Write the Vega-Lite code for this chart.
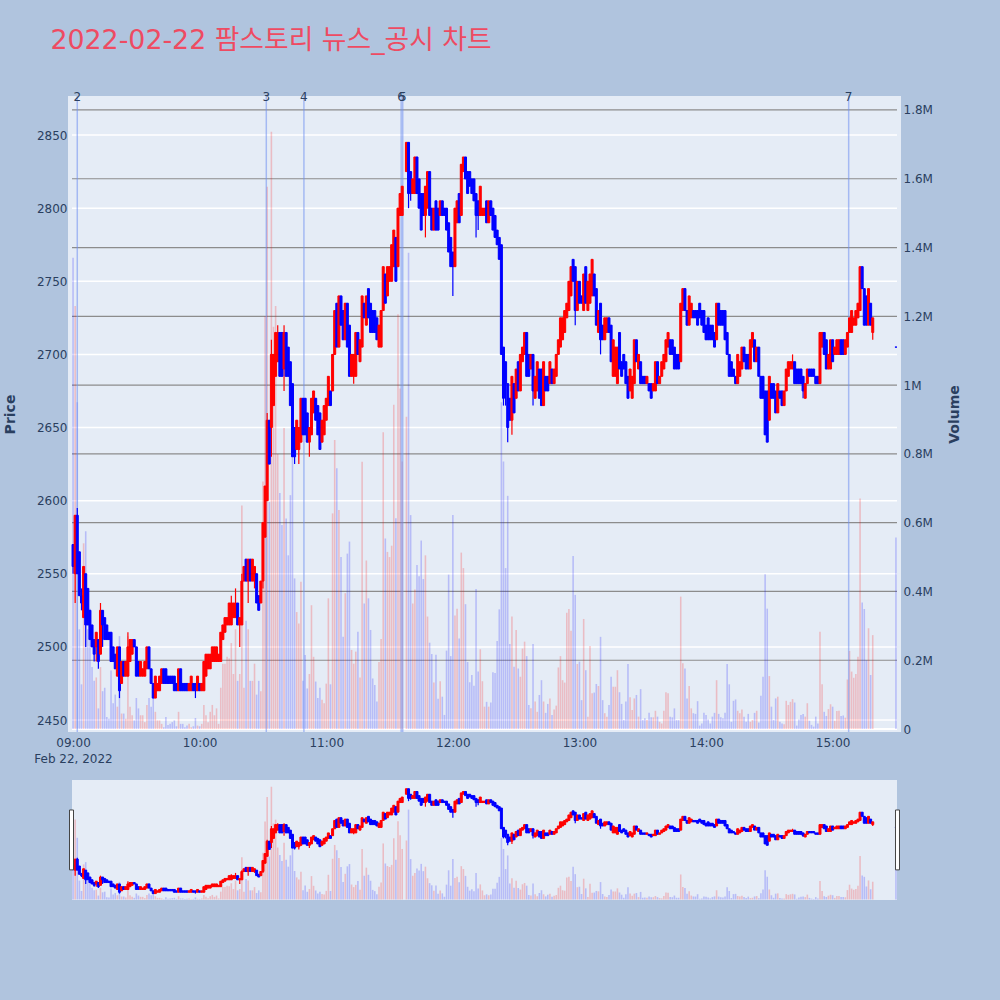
{"$schema":"https://vega.github.io/schema/vega-lite/v6.json","background":"#b0c4de","padding":{"left":3,"top":28,"right":38,"bottom":100},"title":{"text":"2022-02-22 팜스토리 뉴스_공시 차트","anchor":"start","dx":47,"offset":36,"fontSize":26.8,"fontWeight":"normal","color":"#ee4b62"},"config":{"font":"DejaVu Sans, Noto Sans CJK KR","axis":{"labelColor":"#2a3f5f","titleColor":"#2a3f5f","labelFontSize":12,"titleFontSize":14,"domain":false,"ticks":false,"grid":false}},"datasets":{"mainBand":[{"t":"2022-02-22T08:57:36","t2":"2022-02-22T15:32:24","p":2441.8,"p2":2876.7}],"priceGrid":[{"t":"2022-02-22T08:59:30","t2":"2022-02-22T15:30:30","p":2450},{"t":"2022-02-22T08:59:30","t2":"2022-02-22T15:30:30","p":2500},{"t":"2022-02-22T08:59:30","t2":"2022-02-22T15:30:30","p":2550},{"t":"2022-02-22T08:59:30","t2":"2022-02-22T15:30:30","p":2600},{"t":"2022-02-22T08:59:30","t2":"2022-02-22T15:30:30","p":2650},{"t":"2022-02-22T08:59:30","t2":"2022-02-22T15:30:30","p":2700},{"t":"2022-02-22T08:59:30","t2":"2022-02-22T15:30:30","p":2750},{"t":"2022-02-22T08:59:30","t2":"2022-02-22T15:30:30","p":2800},{"t":"2022-02-22T08:59:30","t2":"2022-02-22T15:30:30","p":2850}],"volGrid":[{"t":"2022-02-22T08:59:30","t2":"2022-02-22T15:30:30","v":200000},{"t":"2022-02-22T08:59:30","t2":"2022-02-22T15:30:30","v":400000},{"t":"2022-02-22T08:59:30","t2":"2022-02-22T15:30:30","v":600000},{"t":"2022-02-22T08:59:30","t2":"2022-02-22T15:30:30","v":800000},{"t":"2022-02-22T08:59:30","t2":"2022-02-22T15:30:30","v":1000000},{"t":"2022-02-22T08:59:30","t2":"2022-02-22T15:30:30","v":1200000},{"t":"2022-02-22T08:59:30","t2":"2022-02-22T15:30:30","v":1400000},{"t":"2022-02-22T08:59:30","t2":"2022-02-22T15:30:30","v":1600000},{"t":"2022-02-22T08:59:30","t2":"2022-02-22T15:30:30","v":1800000}],"volZero":[{"t":"2022-02-22T08:59:30","t2":"2022-02-22T15:30:30","v":0}],"sliderBand":[{"t":"2022-02-22T08:59:30","t2":"2022-02-22T15:30:30","p":2441.8,"p2":2876.7}],"handles":[{"t":"2022-02-22T08:58:19","t2":"2022-02-22T09:00:13","p":2768,"p2":2551},{"t":"2022-02-22T15:29:47","t2":"2022-02-22T15:31:41","p":2768,"p2":2551}],"events":[{"t":"2022-02-22T09:02:00","label":"2","p":2876},{"t":"2022-02-22T10:31:35","label":"3","p":2876},{"t":"2022-02-22T10:49:25","label":"4","p":2876},{"t":"2022-02-22T11:35:30","label":"6","p":2876},{"t":"2022-02-22T11:36:15","label":"5","p":2876},{"t":"2022-02-22T15:07:36","label":"7","p":2876}],"bars":[
{"t":"2022-02-22T09:00","o":2570,"h":2570,"l":2550,"c":2555,"v":1370000},
{"t":"2022-02-22T09:01","o":2550,"h":2590,"l":2530,"c":2590,"v":1230000},
{"t":"2022-02-22T09:02","o":2590,"h":2595,"l":2550,"c":2550,"v":950000},
{"t":"2022-02-22T09:03","o":2565,"h":2565,"l":2535,"c":2535,"v":290000},
{"t":"2022-02-22T09:04","o":2535,"h":2540,"l":2525,"c":2530,"v":130000},
{"t":"2022-02-22T09:05","o":2520,"h":2555,"l":2520,"c":2555,"v":540000},
{"t":"2022-02-22T09:06","o":2550,"h":2550,"l":2500,"c":2515,"v":575000},
{"t":"2022-02-22T09:07","o":2540,"h":2540,"l":2515,"c":2515,"v":290000},
{"t":"2022-02-22T09:08","o":2525,"h":2525,"l":2505,"c":2505,"v":350000},
{"t":"2022-02-22T09:09","o":2515,"h":2515,"l":2500,"c":2500,"v":180000},
{"t":"2022-02-22T09:10","o":2505,"h":2505,"l":2490,"c":2495,"v":140000},
{"t":"2022-02-22T09:11","o":2500,"h":2510,"l":2490,"c":2510,"v":150000},
{"t":"2022-02-22T09:12","o":2505,"h":2505,"l":2485,"c":2490,"v":60000},
{"t":"2022-02-22T09:13","o":2495,"h":2530,"l":2495,"c":2525,"v":180000},
{"t":"2022-02-22T09:14","o":2525,"h":2525,"l":2500,"c":2515,"v":110000},
{"t":"2022-02-22T09:15","o":2520,"h":2520,"l":2505,"c":2505,"v":120000},
{"t":"2022-02-22T09:16","o":2515,"h":2515,"l":2505,"c":2505,"v":35000},
{"t":"2022-02-22T09:17","o":2510,"h":2510,"l":2505,"c":2505,"v":30000},
{"t":"2022-02-22T09:18","o":2510,"h":2510,"l":2490,"c":2490,"v":170000},
{"t":"2022-02-22T09:19","o":2500,"h":2500,"l":2490,"c":2490,"v":75000},
{"t":"2022-02-22T09:20","o":2495,"h":2495,"l":2485,"c":2485,"v":100000},
{"t":"2022-02-22T09:21","o":2480,"h":2500,"l":2480,"c":2500,"v":65000},
{"t":"2022-02-22T09:22","o":2500,"h":2500,"l":2465,"c":2470,"v":270000},
{"t":"2022-02-22T09:23","o":2475,"h":2490,"l":2475,"c":2490,"v":45000},
{"t":"2022-02-22T09:24","o":2490,"h":2490,"l":2480,"c":2480,"v":45000},
{"t":"2022-02-22T09:25","o":2480,"h":2490,"l":2480,"c":2490,"v":30000},
{"t":"2022-02-22T09:26","o":2480,"h":2510,"l":2480,"c":2500,"v":270000},
{"t":"2022-02-22T09:27","o":2490,"h":2505,"l":2490,"c":2505,"v":65000},
{"t":"2022-02-22T09:28","o":2495,"h":2505,"l":2495,"c":2505,"v":40000},
{"t":"2022-02-22T09:29","o":2505,"h":2505,"l":2500,"c":2500,"v":25000},
{"t":"2022-02-22T09:30","o":2500,"h":2500,"l":2480,"c":2480,"v":90000},
{"t":"2022-02-22T09:31","o":2490,"h":2490,"l":2480,"c":2480,"v":60000},
{"t":"2022-02-22T09:32","o":2480,"h":2490,"l":2480,"c":2490,"v":40000},
{"t":"2022-02-22T09:33","o":2480,"h":2485,"l":2480,"c":2485,"v":40000},
{"t":"2022-02-22T09:34","o":2480,"h":2490,"l":2480,"c":2490,"v":20000},
{"t":"2022-02-22T09:35","o":2485,"h":2500,"l":2485,"c":2500,"v":70000},
{"t":"2022-02-22T09:36","o":2500,"h":2500,"l":2485,"c":2485,"v":90000},
{"t":"2022-02-22T09:37","o":2485,"h":2485,"l":2475,"c":2475,"v":65000},
{"t":"2022-02-22T09:38","o":2475,"h":2475,"l":2465,"c":2465,"v":95000},
{"t":"2022-02-22T09:39","o":2465,"h":2480,"l":2465,"c":2480,"v":50000},
{"t":"2022-02-22T09:40","o":2470,"h":2475,"l":2470,"c":2475,"v":25000},
{"t":"2022-02-22T09:41","o":2470,"h":2480,"l":2470,"c":2480,"v":25000},
{"t":"2022-02-22T09:42","o":2475,"h":2485,"l":2475,"c":2485,"v":15000},
{"t":"2022-02-22T09:43","o":2485,"h":2485,"l":2475,"c":2475,"v":5000},
{"t":"2022-02-22T09:44","o":2485,"h":2485,"l":2475,"c":2475,"v":35000},
{"t":"2022-02-22T09:45","o":2480,"h":2480,"l":2475,"c":2475,"v":12000},
{"t":"2022-02-22T09:46","o":2480,"h":2480,"l":2475,"c":2475,"v":15000},
{"t":"2022-02-22T09:47","o":2480,"h":2480,"l":2475,"c":2475,"v":20000},
{"t":"2022-02-22T09:48","o":2480,"h":2480,"l":2470,"c":2470,"v":25000},
{"t":"2022-02-22T09:49","o":2475,"h":2475,"l":2470,"c":2470,"v":8000},
{"t":"2022-02-22T09:50","o":2470,"h":2485,"l":2470,"c":2485,"v":50000},
{"t":"2022-02-22T09:51","o":2485,"h":2485,"l":2470,"c":2470,"v":15000},
{"t":"2022-02-22T09:52","o":2475,"h":2475,"l":2470,"c":2470,"v":15000},
{"t":"2022-02-22T09:53","o":2475,"h":2475,"l":2470,"c":2470,"v":5000},
{"t":"2022-02-22T09:54","o":2475,"h":2475,"l":2470,"c":2470,"v":10000},
{"t":"2022-02-22T09:55","o":2470,"h":2475,"l":2470,"c":2475,"v":15000},
{"t":"2022-02-22T09:56","o":2470,"h":2480,"l":2470,"c":2480,"v":5000},
{"t":"2022-02-22T09:57","o":2475,"h":2475,"l":2470,"c":2470,"v":8000},
{"t":"2022-02-22T09:58","o":2475,"h":2475,"l":2465,"c":2470,"v":32000},
{"t":"2022-02-22T09:59","o":2470,"h":2480,"l":2470,"c":2480,"v":10000},
{"t":"2022-02-22T10:00","o":2475,"h":2475,"l":2470,"c":2470,"v":8000},
{"t":"2022-02-22T10:01","o":2470,"h":2475,"l":2470,"c":2475,"v":15000},
{"t":"2022-02-22T10:02","o":2470,"h":2490,"l":2470,"c":2490,"v":70000},
{"t":"2022-02-22T10:03","o":2480,"h":2495,"l":2480,"c":2495,"v":40000},
{"t":"2022-02-22T10:04","o":2485,"h":2495,"l":2485,"c":2495,"v":20000},
{"t":"2022-02-22T10:05","o":2485,"h":2495,"l":2485,"c":2495,"v":50000},
{"t":"2022-02-22T10:06","o":2490,"h":2500,"l":2490,"c":2500,"v":70000},
{"t":"2022-02-22T10:07","o":2490,"h":2500,"l":2490,"c":2500,"v":40000},
{"t":"2022-02-22T10:08","o":2490,"h":2500,"l":2490,"c":2500,"v":60000},
{"t":"2022-02-22T10:09","o":2490,"h":2495,"l":2490,"c":2495,"v":15000},
{"t":"2022-02-22T10:10","o":2490,"h":2510,"l":2490,"c":2510,"v":120000},
{"t":"2022-02-22T10:11","o":2505,"h":2515,"l":2505,"c":2515,"v":190000},
{"t":"2022-02-22T10:12","o":2510,"h":2520,"l":2510,"c":2520,"v":190000},
{"t":"2022-02-22T10:13","o":2515,"h":2520,"l":2515,"c":2520,"v":210000},
{"t":"2022-02-22T10:14","o":2515,"h":2530,"l":2515,"c":2530,"v":205000},
{"t":"2022-02-22T10:15","o":2515,"h":2535,"l":2515,"c":2530,"v":250000},
{"t":"2022-02-22T10:16","o":2520,"h":2530,"l":2520,"c":2530,"v":160000},
{"t":"2022-02-22T10:17","o":2520,"h":2540,"l":2520,"c":2530,"v":290000},
{"t":"2022-02-22T10:18","o":2530,"h":2530,"l":2515,"c":2515,"v":140000},
{"t":"2022-02-22T10:19","o":2515,"h":2520,"l":2500,"c":2520,"v":160000},
{"t":"2022-02-22T10:20","o":2515,"h":2550,"l":2515,"c":2545,"v":650000},
{"t":"2022-02-22T10:21","o":2545,"h":2555,"l":2545,"c":2555,"v":120000},
{"t":"2022-02-22T10:22","o":2560,"h":2560,"l":2545,"c":2545,"v":315000},
{"t":"2022-02-22T10:23","o":2545,"h":2560,"l":2530,"c":2560,"v":290000},
{"t":"2022-02-22T10:24","o":2560,"h":2560,"l":2545,"c":2545,"v":140000},
{"t":"2022-02-22T10:25","o":2545,"h":2560,"l":2545,"c":2560,"v":140000},
{"t":"2022-02-22T10:26","o":2545,"h":2555,"l":2540,"c":2555,"v":190000},
{"t":"2022-02-22T10:27","o":2550,"h":2550,"l":2530,"c":2530,"v":100000},
{"t":"2022-02-22T10:28","o":2535,"h":2535,"l":2525,"c":2525,"v":140000},
{"t":"2022-02-22T10:29","o":2530,"h":2545,"l":2530,"c":2545,"v":110000},
{"t":"2022-02-22T10:30","o":2545,"h":2585,"l":2540,"c":2585,"v":720000},
{"t":"2022-02-22T10:31","o":2575,"h":2610,"l":2575,"c":2610,"v":1200000},
{"t":"2022-02-22T10:32","o":2600,"h":2660,"l":2600,"c":2655,"v":1577000},
{"t":"2022-02-22T10:33","o":2655,"h":2655,"l":2625,"c":2625,"v":660000},
{"t":"2022-02-22T10:34","o":2650,"h":2710,"l":2630,"c":2700,"v":1737000},
{"t":"2022-02-22T10:35","o":2665,"h":2700,"l":2665,"c":2700,"v":1170000},
{"t":"2022-02-22T10:36","o":2685,"h":2715,"l":2685,"c":2715,"v":1230000},
{"t":"2022-02-22T10:37","o":2695,"h":2720,"l":2695,"c":2715,"v":800000},
{"t":"2022-02-22T10:38","o":2715,"h":2715,"l":2685,"c":2685,"v":686000},
{"t":"2022-02-22T10:39","o":2715,"h":2715,"l":2685,"c":2685,"v":593000},
{"t":"2022-02-22T10:40","o":2690,"h":2720,"l":2675,"c":2715,"v":875000},
{"t":"2022-02-22T10:41","o":2715,"h":2715,"l":2685,"c":2685,"v":612000},
{"t":"2022-02-22T10:42","o":2705,"h":2705,"l":2685,"c":2685,"v":505000},
{"t":"2022-02-22T10:43","o":2695,"h":2695,"l":2665,"c":2665,"v":680000},
{"t":"2022-02-22T10:44","o":2680,"h":2680,"l":2630,"c":2630,"v":800000},
{"t":"2022-02-22T10:45","o":2650,"h":2650,"l":2625,"c":2630,"v":438000},
{"t":"2022-02-22T10:46","o":2635,"h":2655,"l":2635,"c":2655,"v":340000},
{"t":"2022-02-22T10:47","o":2635,"h":2650,"l":2625,"c":2650,"v":307000},
{"t":"2022-02-22T10:48","o":2640,"h":2670,"l":2640,"c":2670,"v":428000},
{"t":"2022-02-22T10:49","o":2670,"h":2670,"l":2645,"c":2645,"v":140000},
{"t":"2022-02-22T10:50","o":2670,"h":2670,"l":2645,"c":2645,"v":215000},
{"t":"2022-02-22T10:51","o":2660,"h":2660,"l":2640,"c":2640,"v":118000},
{"t":"2022-02-22T10:52","o":2640,"h":2650,"l":2630,"c":2650,"v":160000},
{"t":"2022-02-22T10:53","o":2645,"h":2670,"l":2645,"c":2670,"v":360000},
{"t":"2022-02-22T10:54","o":2660,"h":2675,"l":2660,"c":2675,"v":210000},
{"t":"2022-02-22T10:55","o":2670,"h":2670,"l":2655,"c":2655,"v":138000},
{"t":"2022-02-22T10:56","o":2665,"h":2665,"l":2645,"c":2645,"v":90000},
{"t":"2022-02-22T10:57","o":2660,"h":2660,"l":2635,"c":2635,"v":120000},
{"t":"2022-02-22T10:58","o":2640,"h":2655,"l":2640,"c":2655,"v":85000},
{"t":"2022-02-22T10:59","o":2645,"h":2665,"l":2645,"c":2665,"v":75000},
{"t":"2022-02-22T11:00","o":2655,"h":2670,"l":2655,"c":2670,"v":132000},
{"t":"2022-02-22T11:01","o":2665,"h":2685,"l":2665,"c":2685,"v":380000},
{"t":"2022-02-22T11:02","o":2675,"h":2675,"l":2665,"c":2665,"v":130000},
{"t":"2022-02-22T11:03","o":2675,"h":2700,"l":2675,"c":2700,"v":627000},
{"t":"2022-02-22T11:04","o":2700,"h":2730,"l":2700,"c":2730,"v":840000},
{"t":"2022-02-22T11:05","o":2735,"h":2735,"l":2705,"c":2705,"v":758000},
{"t":"2022-02-22T11:06","o":2705,"h":2740,"l":2705,"c":2740,"v":637000},
{"t":"2022-02-22T11:07","o":2740,"h":2740,"l":2720,"c":2720,"v":500000},
{"t":"2022-02-22T11:08","o":2730,"h":2730,"l":2710,"c":2710,"v":268000},
{"t":"2022-02-22T11:09","o":2710,"h":2735,"l":2710,"c":2735,"v":395000},
{"t":"2022-02-22T11:10","o":2735,"h":2735,"l":2705,"c":2705,"v":510000},
{"t":"2022-02-22T11:11","o":2720,"h":2720,"l":2685,"c":2685,"v":545000},
{"t":"2022-02-22T11:12","o":2685,"h":2700,"l":2685,"c":2700,"v":230000},
{"t":"2022-02-22T11:13","o":2685,"h":2700,"l":2680,"c":2700,"v":190000},
{"t":"2022-02-22T11:14","o":2685,"h":2715,"l":2685,"c":2715,"v":225000},
{"t":"2022-02-22T11:15","o":2715,"h":2715,"l":2700,"c":2700,"v":283000},
{"t":"2022-02-22T11:16","o":2695,"h":2710,"l":2695,"c":2710,"v":150000},
{"t":"2022-02-22T11:17","o":2705,"h":2740,"l":2705,"c":2740,"v":777000},
{"t":"2022-02-22T11:18","o":2735,"h":2735,"l":2725,"c":2725,"v":365000},
{"t":"2022-02-22T11:19","o":2720,"h":2740,"l":2720,"c":2740,"v":490000},
{"t":"2022-02-22T11:20","o":2745,"h":2745,"l":2725,"c":2725,"v":380000},
{"t":"2022-02-22T11:21","o":2735,"h":2735,"l":2715,"c":2715,"v":288000},
{"t":"2022-02-22T11:22","o":2730,"h":2730,"l":2715,"c":2715,"v":147000},
{"t":"2022-02-22T11:23","o":2730,"h":2730,"l":2715,"c":2715,"v":128000},
{"t":"2022-02-22T11:24","o":2725,"h":2725,"l":2710,"c":2710,"v":80000},
{"t":"2022-02-22T11:25","o":2705,"h":2720,"l":2705,"c":2720,"v":195000},
{"t":"2022-02-22T11:26","o":2705,"h":2730,"l":2705,"c":2730,"v":262000},
{"t":"2022-02-22T11:27","o":2730,"h":2760,"l":2730,"c":2760,"v":863000},
{"t":"2022-02-22T11:28","o":2755,"h":2755,"l":2735,"c":2735,"v":554000},
{"t":"2022-02-22T11:29","o":2740,"h":2760,"l":2740,"c":2760,"v":515000},
{"t":"2022-02-22T11:30","o":2750,"h":2760,"l":2750,"c":2760,"v":500000},
{"t":"2022-02-22T11:31","o":2750,"h":2775,"l":2750,"c":2775,"v":533000},
{"t":"2022-02-22T11:32","o":2760,"h":2785,"l":2760,"c":2785,"v":943000},
{"t":"2022-02-22T11:33","o":2780,"h":2780,"l":2750,"c":2750,"v":613000},
{"t":"2022-02-22T11:34","o":2760,"h":2800,"l":2760,"c":2800,"v":1206000},
{"t":"2022-02-22T11:35","o":2795,"h":2810,"l":2795,"c":2810,"v":990000},
{"t":"2022-02-22T11:36","o":2795,"h":2815,"l":2795,"c":2815,"v":778000},
{"t":"2022-02-22T11:38","o":2825,"h":2845,"l":2825,"c":2845,"v":908000},
{"t":"2022-02-22T11:39","o":2845,"h":2845,"l":2800,"c":2810,"v":1385000},
{"t":"2022-02-22T11:40","o":2825,"h":2825,"l":2805,"c":2810,"v":622000},
{"t":"2022-02-22T11:41","o":2810,"h":2820,"l":2810,"c":2820,"v":365000},
{"t":"2022-02-22T11:42","o":2810,"h":2835,"l":2810,"c":2835,"v":406000},
{"t":"2022-02-22T11:43","o":2835,"h":2835,"l":2810,"c":2810,"v":477000},
{"t":"2022-02-22T11:44","o":2820,"h":2820,"l":2800,"c":2800,"v":444000},
{"t":"2022-02-22T11:45","o":2810,"h":2810,"l":2785,"c":2785,"v":548000},
{"t":"2022-02-22T11:46","o":2810,"h":2810,"l":2795,"c":2795,"v":436000},
{"t":"2022-02-22T11:47","o":2795,"h":2815,"l":2780,"c":2815,"v":505000},
{"t":"2022-02-22T11:48","o":2800,"h":2825,"l":2800,"c":2825,"v":327000},
{"t":"2022-02-22T11:49","o":2825,"h":2825,"l":2795,"c":2795,"v":251000},
{"t":"2022-02-22T11:50","o":2800,"h":2800,"l":2785,"c":2785,"v":218000},
{"t":"2022-02-22T11:51","o":2785,"h":2800,"l":2785,"c":2800,"v":135000},
{"t":"2022-02-22T11:52","o":2805,"h":2805,"l":2785,"c":2785,"v":216000},
{"t":"2022-02-22T11:53","o":2800,"h":2800,"l":2785,"c":2785,"v":88000},
{"t":"2022-02-22T11:54","o":2795,"h":2805,"l":2795,"c":2805,"v":139000},
{"t":"2022-02-22T11:55","o":2805,"h":2805,"l":2795,"c":2795,"v":94000},
{"t":"2022-02-22T11:56","o":2800,"h":2800,"l":2795,"c":2795,"v":41000},
{"t":"2022-02-22T11:57","o":2800,"h":2800,"l":2785,"c":2785,"v":228000},
{"t":"2022-02-22T11:58","o":2790,"h":2790,"l":2770,"c":2770,"v":449000},
{"t":"2022-02-22T11:59","o":2780,"h":2780,"l":2760,"c":2760,"v":212000},
{"t":"2022-02-22T12:00","o":2770,"h":2770,"l":2740,"c":2760,"v":622000},
{"t":"2022-02-22T12:01","o":2760,"h":2800,"l":2760,"c":2800,"v":330000},
{"t":"2022-02-22T12:02","o":2790,"h":2805,"l":2790,"c":2805,"v":350000},
{"t":"2022-02-22T12:03","o":2810,"h":2810,"l":2790,"c":2790,"v":263000},
{"t":"2022-02-22T12:04","o":2795,"h":2830,"l":2795,"c":2830,"v":513000},
{"t":"2022-02-22T12:05","o":2825,"h":2835,"l":2825,"c":2835,"v":468000},
{"t":"2022-02-22T12:06","o":2835,"h":2835,"l":2820,"c":2820,"v":363000},
{"t":"2022-02-22T12:07","o":2825,"h":2825,"l":2810,"c":2810,"v":195000},
{"t":"2022-02-22T12:08","o":2825,"h":2825,"l":2815,"c":2815,"v":136000},
{"t":"2022-02-22T12:09","o":2820,"h":2820,"l":2810,"c":2810,"v":157000},
{"t":"2022-02-22T12:10","o":2820,"h":2820,"l":2805,"c":2805,"v":126000},
{"t":"2022-02-22T12:11","o":2810,"h":2810,"l":2780,"c":2795,"v":407000},
{"t":"2022-02-22T12:12","o":2805,"h":2805,"l":2785,"c":2795,"v":167000},
{"t":"2022-02-22T12:13","o":2795,"h":2815,"l":2795,"c":2815,"v":232000},
{"t":"2022-02-22T12:14","o":2795,"h":2800,"l":2795,"c":2800,"v":139000},
{"t":"2022-02-22T12:15","o":2795,"h":2800,"l":2795,"c":2800,"v":65000},
{"t":"2022-02-22T12:16","o":2805,"h":2805,"l":2790,"c":2790,"v":79000},
{"t":"2022-02-22T12:17","o":2790,"h":2805,"l":2790,"c":2805,"v":65000},
{"t":"2022-02-22T12:18","o":2805,"h":2805,"l":2795,"c":2795,"v":77000},
{"t":"2022-02-22T12:19","o":2800,"h":2800,"l":2785,"c":2785,"v":165000},
{"t":"2022-02-22T12:20","o":2795,"h":2795,"l":2780,"c":2780,"v":163000},
{"t":"2022-02-22T12:21","o":2785,"h":2785,"l":2775,"c":2775,"v":256000},
{"t":"2022-02-22T12:22","o":2780,"h":2780,"l":2765,"c":2765,"v":348000},
{"t":"2022-02-22T12:23","o":2775,"h":2775,"l":2700,"c":2700,"v":950000},
{"t":"2022-02-22T12:24","o":2705,"h":2705,"l":2665,"c":2670,"v":778000},
{"t":"2022-02-22T12:25","o":2695,"h":2695,"l":2665,"c":2680,"v":468000},
{"t":"2022-02-22T12:26","o":2680,"h":2680,"l":2640,"c":2650,"v":678000},
{"t":"2022-02-22T12:27","o":2670,"h":2670,"l":2655,"c":2655,"v":247000},
{"t":"2022-02-22T12:28","o":2655,"h":2685,"l":2645,"c":2685,"v":327000},
{"t":"2022-02-22T12:29","o":2680,"h":2680,"l":2660,"c":2660,"v":181000},
{"t":"2022-02-22T12:30","o":2670,"h":2690,"l":2670,"c":2690,"v":288000},
{"t":"2022-02-22T12:31","o":2695,"h":2695,"l":2675,"c":2675,"v":176000},
{"t":"2022-02-22T12:32","o":2675,"h":2700,"l":2675,"c":2700,"v":152000},
{"t":"2022-02-22T12:33","o":2695,"h":2705,"l":2695,"c":2705,"v":234000},
{"t":"2022-02-22T12:34","o":2700,"h":2715,"l":2700,"c":2715,"v":254000},
{"t":"2022-02-22T12:35","o":2715,"h":2715,"l":2685,"c":2685,"v":212000},
{"t":"2022-02-22T12:36","o":2700,"h":2700,"l":2685,"c":2685,"v":70000},
{"t":"2022-02-22T12:37","o":2690,"h":2700,"l":2690,"c":2700,"v":60000},
{"t":"2022-02-22T12:38","o":2700,"h":2700,"l":2665,"c":2675,"v":247000},
{"t":"2022-02-22T12:39","o":2670,"h":2685,"l":2670,"c":2685,"v":80000},
{"t":"2022-02-22T12:40","o":2675,"h":2695,"l":2675,"c":2695,"v":50000},
{"t":"2022-02-22T12:41","o":2690,"h":2690,"l":2670,"c":2670,"v":99000},
{"t":"2022-02-22T12:42","o":2690,"h":2690,"l":2665,"c":2665,"v":142000},
{"t":"2022-02-22T12:43","o":2665,"h":2695,"l":2665,"c":2695,"v":80000},
{"t":"2022-02-22T12:44","o":2685,"h":2685,"l":2675,"c":2675,"v":47000},
{"t":"2022-02-22T12:45","o":2685,"h":2685,"l":2675,"c":2675,"v":73000},
{"t":"2022-02-22T12:46","o":2680,"h":2695,"l":2680,"c":2695,"v":89000},
{"t":"2022-02-22T12:47","o":2690,"h":2690,"l":2680,"c":2680,"v":41000},
{"t":"2022-02-22T12:48","o":2680,"h":2690,"l":2680,"c":2690,"v":57000},
{"t":"2022-02-22T12:49","o":2685,"h":2700,"l":2685,"c":2700,"v":68000},
{"t":"2022-02-22T12:50","o":2700,"h":2710,"l":2700,"c":2710,"v":179000},
{"t":"2022-02-22T12:51","o":2705,"h":2725,"l":2705,"c":2725,"v":212000},
{"t":"2022-02-22T12:52","o":2710,"h":2725,"l":2710,"c":2725,"v":142000},
{"t":"2022-02-22T12:53","o":2715,"h":2730,"l":2715,"c":2730,"v":135000},
{"t":"2022-02-22T12:54","o":2725,"h":2735,"l":2725,"c":2735,"v":338000},
{"t":"2022-02-22T12:55","o":2730,"h":2750,"l":2730,"c":2750,"v":349000},
{"t":"2022-02-22T12:56","o":2740,"h":2760,"l":2740,"c":2760,"v":286000},
{"t":"2022-02-22T12:57","o":2765,"h":2765,"l":2750,"c":2750,"v":503000},
{"t":"2022-02-22T12:58","o":2760,"h":2760,"l":2720,"c":2730,"v":390000},
{"t":"2022-02-22T12:59","o":2730,"h":2750,"l":2730,"c":2750,"v":189000},
{"t":"2022-02-22T13:00","o":2750,"h":2750,"l":2735,"c":2735,"v":196000},
{"t":"2022-02-22T13:01","o":2740,"h":2740,"l":2735,"c":2735,"v":84000},
{"t":"2022-02-22T13:02","o":2730,"h":2755,"l":2730,"c":2755,"v":320000},
{"t":"2022-02-22T13:03","o":2760,"h":2760,"l":2735,"c":2735,"v":171000},
{"t":"2022-02-22T13:04","o":2730,"h":2750,"l":2730,"c":2750,"v":36000},
{"t":"2022-02-22T13:05","o":2735,"h":2755,"l":2735,"c":2755,"v":241000},
{"t":"2022-02-22T13:06","o":2740,"h":2765,"l":2740,"c":2765,"v":104000},
{"t":"2022-02-22T13:07","o":2755,"h":2755,"l":2740,"c":2740,"v":106000},
{"t":"2022-02-22T13:08","o":2745,"h":2745,"l":2720,"c":2720,"v":131000},
{"t":"2022-02-22T13:09","o":2715,"h":2730,"l":2715,"c":2730,"v":125000},
{"t":"2022-02-22T13:10","o":2735,"h":2735,"l":2700,"c":2710,"v":268000},
{"t":"2022-02-22T13:11","o":2720,"h":2720,"l":2710,"c":2710,"v":84000},
{"t":"2022-02-22T13:12","o":2710,"h":2725,"l":2710,"c":2725,"v":46000},
{"t":"2022-02-22T13:13","o":2715,"h":2725,"l":2715,"c":2725,"v":36000},
{"t":"2022-02-22T13:14","o":2725,"h":2725,"l":2715,"c":2715,"v":70000},
{"t":"2022-02-22T13:15","o":2720,"h":2720,"l":2695,"c":2695,"v":152000},
{"t":"2022-02-22T13:16","o":2685,"h":2710,"l":2685,"c":2710,"v":123000},
{"t":"2022-02-22T13:17","o":2685,"h":2705,"l":2685,"c":2705,"v":123000},
{"t":"2022-02-22T13:18","o":2680,"h":2705,"l":2680,"c":2705,"v":171000},
{"t":"2022-02-22T13:19","o":2715,"h":2715,"l":2690,"c":2690,"v":107000},
{"t":"2022-02-22T13:20","o":2695,"h":2695,"l":2685,"c":2685,"v":73000},
{"t":"2022-02-22T13:21","o":2700,"h":2700,"l":2690,"c":2690,"v":26000},
{"t":"2022-02-22T13:22","o":2695,"h":2695,"l":2680,"c":2680,"v":80000},
{"t":"2022-02-22T13:23","o":2685,"h":2685,"l":2670,"c":2670,"v":189000},
{"t":"2022-02-22T13:24","o":2675,"h":2690,"l":2675,"c":2690,"v":92000},
{"t":"2022-02-22T13:25","o":2670,"h":2685,"l":2670,"c":2685,"v":55000},
{"t":"2022-02-22T13:26","o":2680,"h":2710,"l":2680,"c":2710,"v":89000},
{"t":"2022-02-22T13:27","o":2710,"h":2710,"l":2695,"c":2695,"v":99000},
{"t":"2022-02-22T13:28","o":2690,"h":2700,"l":2690,"c":2700,"v":36000},
{"t":"2022-02-22T13:29","o":2695,"h":2695,"l":2680,"c":2680,"v":116000},
{"t":"2022-02-22T13:30","o":2685,"h":2685,"l":2680,"c":2680,"v":26000},
{"t":"2022-02-22T13:31","o":2685,"h":2685,"l":2680,"c":2680,"v":31000},
{"t":"2022-02-22T13:32","o":2680,"h":2685,"l":2680,"c":2685,"v":26000},
{"t":"2022-02-22T13:33","o":2680,"h":2680,"l":2675,"c":2675,"v":47000},
{"t":"2022-02-22T13:34","o":2680,"h":2680,"l":2670,"c":2670,"v":34000},
{"t":"2022-02-22T13:35","o":2675,"h":2680,"l":2675,"c":2680,"v":34000},
{"t":"2022-02-22T13:36","o":2675,"h":2695,"l":2675,"c":2695,"v":53000},
{"t":"2022-02-22T13:37","o":2695,"h":2695,"l":2680,"c":2680,"v":36000},
{"t":"2022-02-22T13:38","o":2680,"h":2685,"l":2680,"c":2685,"v":21000},
{"t":"2022-02-22T13:39","o":2685,"h":2695,"l":2685,"c":2695,"v":16000},
{"t":"2022-02-22T13:40","o":2690,"h":2700,"l":2690,"c":2700,"v":53000},
{"t":"2022-02-22T13:41","o":2695,"h":2710,"l":2695,"c":2710,"v":107000},
{"t":"2022-02-22T13:42","o":2705,"h":2715,"l":2705,"c":2715,"v":104000},
{"t":"2022-02-22T13:43","o":2710,"h":2710,"l":2700,"c":2700,"v":36000},
{"t":"2022-02-22T13:44","o":2710,"h":2710,"l":2700,"c":2700,"v":34000},
{"t":"2022-02-22T13:45","o":2705,"h":2705,"l":2690,"c":2690,"v":60000},
{"t":"2022-02-22T13:46","o":2700,"h":2700,"l":2690,"c":2690,"v":26000},
{"t":"2022-02-22T13:47","o":2700,"h":2700,"l":2690,"c":2690,"v":26000},
{"t":"2022-02-22T13:48","o":2695,"h":2735,"l":2695,"c":2735,"v":385000},
{"t":"2022-02-22T13:49","o":2730,"h":2745,"l":2730,"c":2745,"v":191000},
{"t":"2022-02-22T13:50","o":2745,"h":2745,"l":2730,"c":2730,"v":176000},
{"t":"2022-02-22T13:51","o":2730,"h":2730,"l":2720,"c":2720,"v":89000},
{"t":"2022-02-22T13:52","o":2720,"h":2740,"l":2720,"c":2740,"v":125000},
{"t":"2022-02-22T13:53","o":2725,"h":2735,"l":2725,"c":2735,"v":60000},
{"t":"2022-02-22T13:54","o":2730,"h":2730,"l":2725,"c":2725,"v":46000},
{"t":"2022-02-22T13:55","o":2730,"h":2730,"l":2725,"c":2725,"v":44000},
{"t":"2022-02-22T13:56","o":2730,"h":2730,"l":2720,"c":2720,"v":81000},
{"t":"2022-02-22T13:57","o":2735,"h":2735,"l":2725,"c":2725,"v":10000},
{"t":"2022-02-22T13:58","o":2730,"h":2730,"l":2720,"c":2720,"v":16000},
{"t":"2022-02-22T13:59","o":2730,"h":2730,"l":2715,"c":2715,"v":47000},
{"t":"2022-02-22T14:00","o":2720,"h":2720,"l":2710,"c":2710,"v":41000},
{"t":"2022-02-22T14:01","o":2725,"h":2725,"l":2710,"c":2710,"v":28000},
{"t":"2022-02-22T14:02","o":2720,"h":2720,"l":2710,"c":2710,"v":16000},
{"t":"2022-02-22T14:03","o":2720,"h":2720,"l":2710,"c":2710,"v":36000},
{"t":"2022-02-22T14:04","o":2715,"h":2715,"l":2705,"c":2705,"v":47000},
{"t":"2022-02-22T14:05","o":2710,"h":2735,"l":2710,"c":2735,"v":142000},
{"t":"2022-02-22T14:06","o":2735,"h":2735,"l":2720,"c":2720,"v":44000},
{"t":"2022-02-22T14:07","o":2730,"h":2730,"l":2720,"c":2720,"v":34000},
{"t":"2022-02-22T14:08","o":2730,"h":2730,"l":2720,"c":2720,"v":31000},
{"t":"2022-02-22T14:09","o":2730,"h":2730,"l":2710,"c":2710,"v":47000},
{"t":"2022-02-22T14:10","o":2715,"h":2715,"l":2700,"c":2700,"v":189000},
{"t":"2022-02-22T14:11","o":2700,"h":2700,"l":2685,"c":2685,"v":130000},
{"t":"2022-02-22T14:12","o":2695,"h":2695,"l":2685,"c":2685,"v":21000},
{"t":"2022-02-22T14:13","o":2690,"h":2690,"l":2685,"c":2685,"v":82000},
{"t":"2022-02-22T14:14","o":2685,"h":2685,"l":2680,"c":2680,"v":86000},
{"t":"2022-02-22T14:15","o":2680,"h":2700,"l":2680,"c":2700,"v":53000},
{"t":"2022-02-22T14:16","o":2685,"h":2695,"l":2685,"c":2695,"v":46000},
{"t":"2022-02-22T14:17","o":2690,"h":2705,"l":2690,"c":2705,"v":57000},
{"t":"2022-02-22T14:18","o":2705,"h":2705,"l":2695,"c":2695,"v":36000},
{"t":"2022-02-22T14:19","o":2700,"h":2700,"l":2690,"c":2690,"v":21000},
{"t":"2022-02-22T14:20","o":2700,"h":2700,"l":2690,"c":2690,"v":44000},
{"t":"2022-02-22T14:21","o":2690,"h":2710,"l":2690,"c":2710,"v":21000},
{"t":"2022-02-22T14:22","o":2705,"h":2715,"l":2705,"c":2715,"v":26000},
{"t":"2022-02-22T14:23","o":2710,"h":2710,"l":2695,"c":2695,"v":47000},
{"t":"2022-02-22T14:24","o":2695,"h":2705,"l":2695,"c":2705,"v":53000},
{"t":"2022-02-22T14:25","o":2705,"h":2705,"l":2685,"c":2685,"v":19000},
{"t":"2022-02-22T14:26","o":2685,"h":2685,"l":2670,"c":2670,"v":97000},
{"t":"2022-02-22T14:27","o":2685,"h":2685,"l":2670,"c":2670,"v":152000},
{"t":"2022-02-22T14:28","o":2675,"h":2675,"l":2645,"c":2645,"v":450000},
{"t":"2022-02-22T14:29","o":2675,"h":2675,"l":2640,"c":2640,"v":350000},
{"t":"2022-02-22T14:30","o":2655,"h":2685,"l":2655,"c":2685,"v":154000},
{"t":"2022-02-22T14:31","o":2680,"h":2680,"l":2670,"c":2670,"v":65000},
{"t":"2022-02-22T14:32","o":2680,"h":2680,"l":2670,"c":2670,"v":26000},
{"t":"2022-02-22T14:33","o":2675,"h":2675,"l":2660,"c":2660,"v":89000},
{"t":"2022-02-22T14:34","o":2660,"h":2680,"l":2660,"c":2680,"v":94000},
{"t":"2022-02-22T14:35","o":2675,"h":2675,"l":2670,"c":2670,"v":21000},
{"t":"2022-02-22T14:36","o":2675,"h":2675,"l":2665,"c":2665,"v":16000},
{"t":"2022-02-22T14:37","o":2665,"h":2675,"l":2665,"c":2675,"v":14000},
{"t":"2022-02-22T14:38","o":2675,"h":2690,"l":2675,"c":2690,"v":82000},
{"t":"2022-02-22T14:39","o":2685,"h":2695,"l":2685,"c":2695,"v":70000},
{"t":"2022-02-22T14:40","o":2690,"h":2695,"l":2690,"c":2695,"v":79000},
{"t":"2022-02-22T14:41","o":2690,"h":2700,"l":2690,"c":2695,"v":87000},
{"t":"2022-02-22T14:42","o":2695,"h":2695,"l":2680,"c":2680,"v":77000},
{"t":"2022-02-22T14:43","o":2690,"h":2690,"l":2680,"c":2680,"v":10000},
{"t":"2022-02-22T14:44","o":2690,"h":2690,"l":2680,"c":2680,"v":28000},
{"t":"2022-02-22T14:45","o":2690,"h":2690,"l":2680,"c":2680,"v":41000},
{"t":"2022-02-22T14:46","o":2685,"h":2685,"l":2670,"c":2675,"v":44000},
{"t":"2022-02-22T14:47","o":2670,"h":2680,"l":2670,"c":2680,"v":36000},
{"t":"2022-02-22T14:48","o":2680,"h":2690,"l":2680,"c":2690,"v":75000},
{"t":"2022-02-22T14:49","o":2690,"h":2690,"l":2685,"c":2685,"v":24000},
{"t":"2022-02-22T14:50","o":2690,"h":2690,"l":2685,"c":2685,"v":12000},
{"t":"2022-02-22T14:51","o":2690,"h":2690,"l":2685,"c":2685,"v":7000},
{"t":"2022-02-22T14:52","o":2685,"h":2685,"l":2680,"c":2680,"v":36000},
{"t":"2022-02-22T14:53","o":2685,"h":2685,"l":2680,"c":2680,"v":16000},
{"t":"2022-02-22T14:54","o":2680,"h":2715,"l":2680,"c":2715,"v":283000},
{"t":"2022-02-22T14:55","o":2705,"h":2715,"l":2705,"c":2715,"v":130000},
{"t":"2022-02-22T14:56","o":2715,"h":2715,"l":2700,"c":2700,"v":50000},
{"t":"2022-02-22T14:57","o":2710,"h":2710,"l":2690,"c":2690,"v":38000},
{"t":"2022-02-22T14:58","o":2690,"h":2700,"l":2690,"c":2700,"v":58000},
{"t":"2022-02-22T14:59","o":2690,"h":2710,"l":2690,"c":2710,"v":72000},
{"t":"2022-02-22T15:00","o":2710,"h":2710,"l":2695,"c":2695,"v":65000},
{"t":"2022-02-22T15:01","o":2700,"h":2705,"l":2700,"c":2705,"v":24000},
{"t":"2022-02-22T15:02","o":2700,"h":2710,"l":2700,"c":2710,"v":52000},
{"t":"2022-02-22T15:03","o":2700,"h":2710,"l":2700,"c":2710,"v":53000},
{"t":"2022-02-22T15:04","o":2710,"h":2710,"l":2700,"c":2700,"v":38000},
{"t":"2022-02-22T15:05","o":2710,"h":2710,"l":2700,"c":2700,"v":39000},
{"t":"2022-02-22T15:06","o":2700,"h":2710,"l":2700,"c":2710,"v":33000},
{"t":"2022-02-22T15:07","o":2705,"h":2715,"l":2705,"c":2715,"v":144000},
{"t":"2022-02-22T15:08","o":2715,"h":2725,"l":2715,"c":2725,"v":227000},
{"t":"2022-02-22T15:09","o":2715,"h":2730,"l":2715,"c":2730,"v":167000},
{"t":"2022-02-22T15:10","o":2720,"h":2725,"l":2720,"c":2725,"v":149000},
{"t":"2022-02-22T15:11","o":2720,"h":2730,"l":2720,"c":2730,"v":160000},
{"t":"2022-02-22T15:12","o":2725,"h":2735,"l":2725,"c":2735,"v":210000},
{"t":"2022-02-22T15:13","o":2730,"h":2760,"l":2730,"c":2760,"v":670000},
{"t":"2022-02-22T15:14","o":2760,"h":2760,"l":2745,"c":2745,"v":368000},
{"t":"2022-02-22T15:15","o":2745,"h":2745,"l":2720,"c":2720,"v":349000},
{"t":"2022-02-22T15:16","o":2740,"h":2740,"l":2720,"c":2720,"v":200000},
{"t":"2022-02-22T15:17","o":2720,"h":2745,"l":2720,"c":2745,"v":293000},
{"t":"2022-02-22T15:18","o":2735,"h":2735,"l":2720,"c":2720,"v":157000},
{"t":"2022-02-22T15:19","o":2715,"h":2725,"l":2710,"c":2725,"v":273000},
{"t":"2022-02-22T15:30","o":2705,"h":2705,"l":2705,"c":2705,"v":557000}
]},"vconcat":[{"width":825,"height":636,"view":{"stroke":null},"encoding":{"x":{"field":"t","type":"temporal","title":"Feb 22, 2022","scale":{"domain":["2022-02-22T08:59:30","2022-02-22T15:30:30"],"padding":0},"axis":{"tickCount":7,"format":"%H:%M","labelAngle":0,"labelBound":false,"labelFlush":false,"labelPadding":5,"titleX":1,"titleY":26,"titleAlign":"center","titleBaseline":"middle","titleFontSize":12,"titleFontWeight":"normal"}}},"resolve":{"scale":{"y":"independent"},"axis":{"y":"independent"}},"layer":[{"data":{"name":"mainBand"},"mark":{"type":"rect","color":"#e5ecf6"},"encoding":{"x2":{"field":"t2"},"y":{"field":"p","type":"quantitative","scale":{"domain":[2441.8,2876.7]},"axis":null},"y2":{"field":"p2"}}},{"data":{"name":"priceGrid"},"mark":{"type":"rule","color":"white","strokeWidth":1.5},"encoding":{"x2":{"field":"t2"},"y":{"field":"p","type":"quantitative","title":"Price","scale":{"domain":[2441.8,2876.7]},"axis":{"orient":"left","values":[2450,2500,2550,2600,2650,2700,2750,2800,2850],"labelPadding":5,"titlePadding":19,"format":"d"}}}},{"data":{"name":"volZero"},"mark":{"type":"rule","color":"white","strokeWidth":2},"encoding":{"x2":{"field":"t2"},"y":{"field":"v","type":"quantitative","scale":{"domain":[-8700,1840600]},"axis":null}}},{"data":{"name":"volGrid"},"mark":{"type":"rule","color":"#8c8c8c","strokeWidth":1.2},"encoding":{"x2":{"field":"t2"},"y":{"field":"v","type":"quantitative","title":"Volume","scale":{"domain":[-8700,1840600]},"axis":{"orient":"right","values":[0,200000,400000,600000,800000,1000000,1200000,1400000,1600000,1800000],"labelPadding":6,"titlePadding":29,"titleAngle":270,"labelExpr":"datum.value==0?'0':datum.value==1000000?'1M':format(datum.value/1000000,'.1f')+'M'"}}}},{"data":{"name":"bars"},"mark":{"type":"bar","size":1.6,"opacity":0.2,"orient":"vertical"},"encoding":{"y":{"field":"v","type":"quantitative","stack":null,"scale":{"domain":[-8700,1840600]},"axis":null},"fill":{"condition":{"test":"datum.c>datum.o","value":"red"},"value":"blue"}}},{"data":{"name":"events"},"mark":{"type":"rule","color":"#6f8ff0","opacity":0.55,"strokeWidth":1.5},"encoding":{"x":{"field":"t","type":"temporal","title":"Feb 22, 2022"}}},{"data":{"name":"events"},"mark":{"type":"text","color":"#2a3f5f","fontSize":12,"baseline":"middle"},"encoding":{"y":{"field":"p","type":"quantitative","scale":{"domain":[2441.8,2876.7]},"axis":null},"text":{"field":"label"}}},{"data":{"name":"bars"},"mark":{"type":"rule","strokeWidth":1.2},"encoding":{"y":{"field":"l","type":"quantitative","scale":{"domain":[2441.8,2876.7]},"axis":null},"y2":{"field":"h"},"stroke":{"condition":{"test":"datum.c>datum.o","value":"red"},"value":"blue"}}},{"data":{"name":"bars"},"mark":{"type":"bar","size":2,"strokeWidth":1,"orient":"vertical"},"encoding":{"y":{"field":"o","type":"quantitative","scale":{"domain":[2441.8,2876.7]},"axis":null},"y2":{"field":"c"},"fill":{"condition":{"test":"datum.c>datum.o","value":"red"},"value":"blue"},"stroke":{"condition":{"test":"datum.c>datum.o","value":"red"},"value":"blue"}}}]},{"width":825,"height":120,"view":{"stroke":null},"encoding":{"x":{"field":"t","type":"temporal","title":null,"scale":{"domain":["2022-02-22T08:59:30","2022-02-22T15:30:30"],"padding":0},"axis":null}},"resolve":{"scale":{"y":"independent"}},"layer":[{"data":{"name":"sliderBand"},"mark":{"type":"rect","color":"#e5ecf6"},"encoding":{"x2":{"field":"t2"},"y":{"field":"p","type":"quantitative","scale":{"domain":[2441.8,2876.7]},"axis":null},"y2":{"field":"p2"}}},{"data":{"name":"bars"},"mark":{"type":"bar","size":1.6,"opacity":0.2,"orient":"vertical"},"encoding":{"y":{"field":"v","type":"quantitative","stack":null,"scale":{"domain":[-8700,1840600]},"axis":null},"fill":{"condition":{"test":"datum.c>datum.o","value":"red"},"value":"blue"}}},{"data":{"name":"bars"},"mark":{"type":"rule","strokeWidth":1.2},"encoding":{"y":{"field":"l","type":"quantitative","scale":{"domain":[2441.8,2876.7]},"axis":null},"y2":{"field":"h"},"stroke":{"condition":{"test":"datum.c>datum.o","value":"red"},"value":"blue"}}},{"data":{"name":"bars"},"mark":{"type":"bar","size":2,"strokeWidth":1,"orient":"vertical"},"encoding":{"y":{"field":"o","type":"quantitative","scale":{"domain":[2441.8,2876.7]},"axis":null},"y2":{"field":"c"},"fill":{"condition":{"test":"datum.c>datum.o","value":"red"},"value":"blue"},"stroke":{"condition":{"test":"datum.c>datum.o","value":"red"},"value":"blue"}}},{"data":{"name":"handles"},"mark":{"type":"rect","fill":"white","stroke":"#444444","strokeWidth":1},"encoding":{"x2":{"field":"t2"},"y":{"field":"p","type":"quantitative","scale":{"domain":[2441.8,2876.7]},"axis":null},"y2":{"field":"p2"}}}]}],"spacing":16}
